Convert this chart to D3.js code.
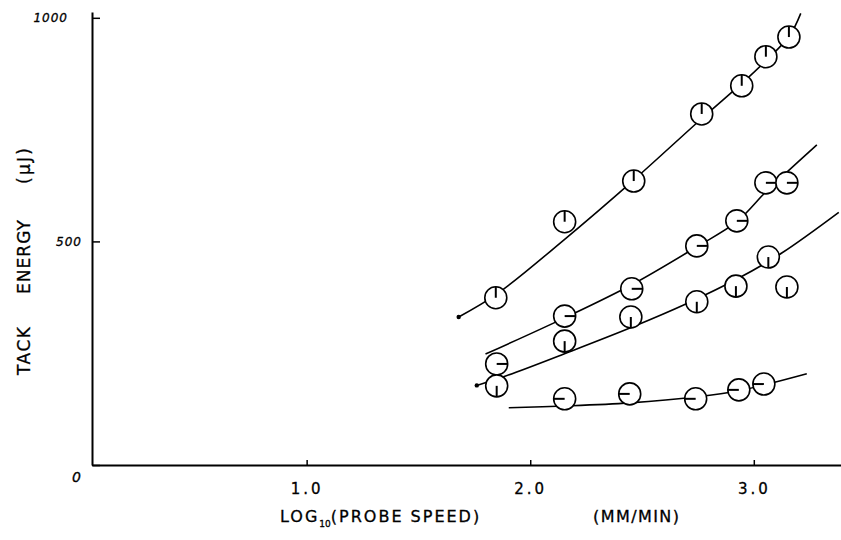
<!DOCTYPE html>
<html lang="en">
<head>
<meta charset="UTF-8">
<title>Tack Energy vs Probe Speed</title>
<script src="https://d3js.org/d3.v7.min.js"></script>
<style>
  body { margin: 0; background: #fff; }
  svg { display: block; font-family: "DejaVu Sans", sans-serif; }
  .axis path, .axis line { stroke: #000; }
  .axis path { stroke-width: 2px; }
  .axis line { stroke-width: 1.5px; }
  .fit { fill: none; stroke: #000; stroke-width: 1.6px; }
  .pt { fill: #fff; stroke: #000; stroke-width: 1.6px; }
  .flag { stroke: #000; stroke-width: 2px; }
  .title { fill: #000; stroke: #000; stroke-width: 0.3px; }
</style>
</head>
<body>
<svg width="841" height="540"></svg>
<script>
// measured points: [log10 probe speed, tack energy (uJ)]
const ptsA = [[1.846, 374], [2.154, 544], [2.463, 635], [2.767, 785], [2.946, 848], [3.054, 913], [3.157, 957]];
const ptsB = [[1.850, 226], [2.154, 333], [2.454, 394], [2.745, 490], [2.924, 546], [3.054, 631], [3.148, 631]];
const ptsC = [[1.850, 177], [2.154, 277], [2.450, 331], [2.745, 365], [2.920, 400], [3.065, 465], [3.148, 398]];
const ptsD = [[2.154, 148], [2.445, 159], [2.740, 148], [2.933, 168], [3.045, 181]];

// hand-drawn curves through the points
const fitA = [[1.68, 331], [1.85, 382], [2.15, 503], [2.46, 636], [2.77, 776], [2.95, 855], [3.06, 907], [3.16, 960], [3.21, 1010]];
const fitB = [[1.80, 248], [2.154, 329], [2.454, 403], [2.745, 488], [2.924, 544], [3.054, 611], [3.148, 655], [3.282, 716]];
const fitC = [[1.761, 178], [1.89, 199], [2.159, 250], [2.454, 308], [2.696, 360], [2.933, 418], [3.125, 474], [3.38, 565]];
const fitD = [[1.904, 128], [2.154, 132], [2.445, 139], [2.74, 152], [2.933, 166], [3.237, 204]];

const xTicks = [1, 2, 3];
const xTickLabels = ["1.0", "2.0", "3.0"];
const yTicks = [0, 500, 1000];
const yTickLabels = ["0", "500", "1000"];

const series = [
  { pts: ptsA, fit: fitA, flag: "up", dot: true },
  { pts: ptsB, fit: fitB, flag: "right", dot: false },
  { pts: ptsC, fit: fitC, flag: "down", dot: true },
  { pts: ptsD, fit: fitD, flag: "left", dot: false }
];

const svg = d3.select("svg");

const x = d3.scaleLinear().domain([0.04, 3.39]).range([92, 841]);
const y = d3.scaleLinear().domain([0, 1013]).range([465, 12]);

// x axis
const xAxis = svg.append("g")
  .attr("class", "axis")
  .attr("transform", `translate(0,${y(0)})`)
  .call(d3.axisBottom(x).tickValues(xTicks).tickSize(-5).tickSizeOuter(0).tickPadding(18)
    .tickFormat((d, i) => xTickLabels[i]));
xAxis.selectAll("text")
  .attr("class", "title")
  .attr("font-size", 15)
  .attr("letter-spacing", 3)
  .attr("font-family", "DejaVu Sans");

// y axis
const yAxis = svg.append("g")
  .attr("class", "axis")
  .attr("transform", `translate(${x(0.04)},0)`)
  .call(d3.axisLeft(y).tickValues(yTicks).tickSize(-8).tickSizeOuter(0).tickPadding(10)
    .tickFormat((d, i) => yTickLabels[i]));
yAxis.selectAll("text")
  .attr("class", "title")
  .attr("font-size", 12)
  .attr("font-style", "italic")
  .attr("letter-spacing", 1)
  .attr("font-family", "DejaVu Sans");
yAxis.selectAll(".tick").filter(d => d === 0).select("text").attr("dy", "1.2em").attr("font-size", 14);
yAxis.selectAll(".tick").filter(d => d === 1000).select("text").attr("dx", -14);

// axis titles
const xt = svg.append("text")
  .attr("class", "title")
  .attr("x", 280).attr("y", 522)
  .attr("font-size", 16)
  .attr("letter-spacing", 2);
xt.append("tspan").text("LOG");
xt.append("tspan").attr("font-size", 9).attr("dy", 5).attr("letter-spacing", 0).text("10");
xt.append("tspan").attr("dy", -5).text("(PROBE SPEED)");

svg.append("text")
  .attr("class", "title")
  .attr("x", 593).attr("y", 522)
  .attr("font-size", 16)
  .attr("textLength", 86)
  .attr("lengthAdjust", "spacing")
  .text("(MM/MIN)");

const yTitle = svg.append("g").attr("transform", "translate(30,0) rotate(-90)");
[["TACK", -375, 48], ["ENERGY", -294, 74], ["(\u03BCJ)", -184, 36]].forEach(([t, pos, len]) => {
  yTitle.append("text")
    .attr("class", "title")
    .attr("x", pos).attr("y", 0)
    .attr("font-size", 17)
    .attr("textLength", len)
    .attr("lengthAdjust", "spacing")
    .text(t);
});

// curves
const line = d3.line()
  .x(d => x(d[0]))
  .y(d => y(d[1]))
  .curve(d3.curveCatmullRom.alpha(0.5));

const g = svg.append("g");
series.forEach(s => {
  g.append("path").attr("class", "fit").attr("d", line(s.fit));
  if (s.dot) {
    g.append("circle")
      .attr("cx", x(s.fit[0][0])).attr("cy", y(s.fit[0][1]))
      .attr("r", 2.2).attr("fill", "#000");
  }
});

// points: open circles with a flag showing the series
const r = 11;
const flagEnd = { up: [0, -r], right: [r, 0], down: [0, r], left: [-r, 0] };
series.forEach(s => {
  const grp = g.append("g").selectAll("g")
    .data(s.pts)
    .enter().append("g")
      .attr("transform", d => `translate(${x(d[0])},${y(d[1])})`);
  grp.append("circle").attr("class", "pt").attr("r", r);
  grp.append("line").attr("class", "flag")
    .attr("x1", 0).attr("y1", 0)
    .attr("x2", flagEnd[s.flag][0]).attr("y2", flagEnd[s.flag][1]);
});
</script>
</body>
</html>
